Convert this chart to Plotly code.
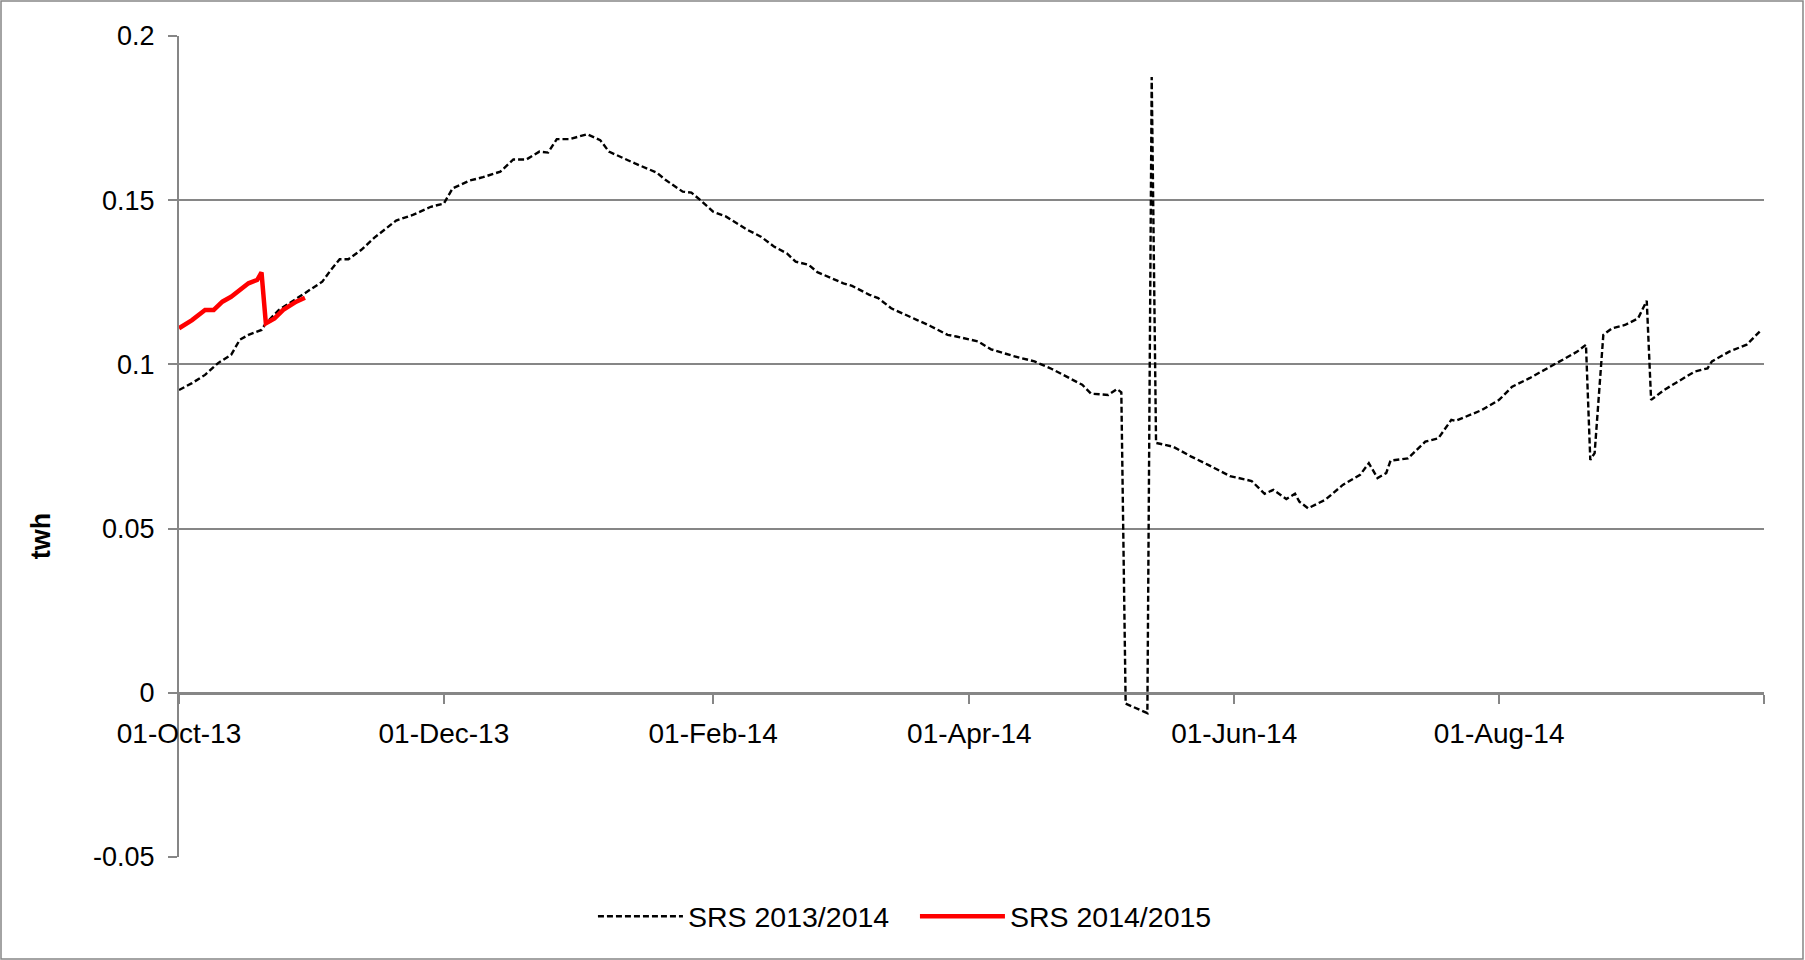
import pandas as pd
import plotly.graph_objects as go

# =========================
# DATA (days counted from the start of the season, 01-Oct)
# =========================
season_start = pd.Timestamp("2013-10-01")

srs_1314_days = [
    0, 3, 6, 9, 12, 14, 16, 19, 20, 23, 29, 33, 35, 37, 39, 42, 45, 50, 54, 58,
    61, 63, 67, 70, 74, 77, 80, 83, 85, 87, 90, 92, 94, 97, 99, 105, 110, 112,
    116, 118, 120, 123, 126, 131, 134, 137, 140, 142, 145, 147, 153, 155, 159,
    161, 164, 170, 173, 177, 179, 184, 187, 192, 197, 201, 205, 208, 210, 214,
    216, 217, 218, 223, 224, 225, 229, 233, 237, 242, 247, 250, 252, 255, 257,
    258, 260, 264, 268, 272, 274, 276, 278, 279, 283, 287, 290, 293, 294, 300,
    304, 307, 311, 317, 322, 324, 325, 326, 328, 330, 333, 336, 338, 339, 342,
    349, 352, 353, 357, 361, 364,
]
srs_1314_twh = [
    0.0922, 0.0943, 0.0968, 0.1004, 0.1029, 0.1075, 0.1090, 0.1105, 0.1125,
    0.1166, 0.1217, 0.1252, 0.1288, 0.1320, 0.1320, 0.1349, 0.1386, 0.1438,
    0.1456, 0.1480, 0.1490, 0.1536, 0.1560, 0.1570, 0.1587, 0.1624, 0.1624,
    0.1648, 0.1645, 0.1686, 0.1686, 0.1693, 0.1701, 0.1683, 0.1648, 0.1612,
    0.1584, 0.1562, 0.1526, 0.1523, 0.1501, 0.1465, 0.1450, 0.1409, 0.1389,
    0.1359, 0.1338, 0.1313, 0.1303, 0.1281, 0.1247, 0.1239, 0.1212, 0.1202,
    0.1171, 0.1135, 0.1117, 0.1090, 0.1085, 0.1070, 0.1046, 0.1026, 0.1009,
    0.0986, 0.0960, 0.0938, 0.0911, 0.0907, 0.0925, 0.0915, -0.0033, -0.0062,
    0.1875, 0.0761, 0.0749, 0.0720, 0.0694, 0.0660, 0.0645, 0.0606, 0.0618,
    0.0590, 0.0606, 0.0582, 0.0562, 0.0588, 0.0633, 0.0664, 0.0699, 0.0654,
    0.0669, 0.0707, 0.0714, 0.0765, 0.0775, 0.0831, 0.0828, 0.0861, 0.0892,
    0.0932, 0.0958, 0.1001, 0.1039, 0.1060, 0.0709, 0.0730, 0.1090, 0.1110,
    0.1120, 0.1140, 0.1194, 0.0892, 0.0922, 0.0978, 0.0988, 0.1009, 0.1039,
    0.1060, 0.1100,
]

srs_1415_days = [0, 3, 6, 8, 10, 12, 16, 18, 19, 20, 22, 24, 27, 29]
srs_1415_twh = [
    0.1110, 0.1135, 0.1166, 0.1166, 0.1191, 0.1206, 0.1247, 0.1257, 0.1280,
    0.1125, 0.1140, 0.1166, 0.1191, 0.1203,
]

x_tick_dates = ["2013-10-01", "2013-12-01", "2014-02-01", "2014-04-01",
                "2014-06-01", "2014-08-01", "2014-10-01"]
x_tick_text = ["01-Oct-13", "01-Dec-13", "01-Feb-14", "01-Apr-14",
               "01-Jun-14", "01-Aug-14", ""]
y_tick_vals = [-0.05, 0, 0.05, 0.1, 0.15, 0.2]
y_tick_text = ["-0.05", "0", "0.05", "0.1", "0.15", "0.2"]

x_1314 = season_start + pd.to_timedelta(srs_1314_days, unit="D")
x_1415 = season_start + pd.to_timedelta(srs_1415_days, unit="D")

# =========================
# CHART
# =========================
FONT = "Liberation Sans, Arial, sans-serif"
GRID = "#868686"

fig = go.Figure()

fig.add_trace(go.Scatter(
    x=x_1314, y=srs_1314_twh, mode="lines",
    line=dict(color="black", width=2.4, dash="6px,3px"),
    name="SRS 2013/2014"
))

fig.add_trace(go.Scatter(
    x=x_1415, y=srs_1415_twh, mode="lines",
    line=dict(color="#ff0000", width=4.5),
    name="SRS 2014/2015"
))

# outer frame around the whole chart
fig.add_shape(type="rect", xref="paper", yref="paper",
              x0=-0.1123, x1=1.0246, y0=-0.1242, y1=1.0426,
              line=dict(color=GRID, width=1.5), layer="below")

fig.add_annotation(text="<b>twh</b>", xref="paper", yref="paper",
                   x=-0.0978, y=0.392, textangle=-90, showarrow=False,
                   font=dict(family=FONT, size=27, color="black"))

fig.update_layout(
    width=1805, height=960,
    margin=dict(l=179, r=41, t=36, b=103, autoexpand=False),
    paper_bgcolor="white", plot_bgcolor="white",
    font=dict(family=FONT, size=27, color="black"),
    showlegend=True,
    legend=dict(orientation="h", xref="container", yref="container",
                x=0.3285, xanchor="left", y=0.045, yanchor="middle",
                font=dict(family=FONT, size=28.5), itemwidth=85,
                entrywidth=222, entrywidthmode="pixels",
                tracegroupgap=0),
)

fig.update_xaxes(
    type="date", range=["2013-10-01", "2014-10-01"],
    tickvals=x_tick_dates, ticktext=x_tick_text,
    anchor="free", position=0.2,
    showline=True, linecolor=GRID, linewidth=3,
    ticks="outside", ticklen=9, tickwidth=2, tickcolor=GRID,
    ticklabelstandoff=6, tickfont=dict(size=28),
    showgrid=False, zeroline=False,
)

fig.update_yaxes(
    range=[-0.05, 0.2],
    tickvals=y_tick_vals, ticktext=y_tick_text,
    showline=True, linecolor=GRID, linewidth=2,
    ticks="outside", ticklen=9, tickwidth=2, tickcolor=GRID,
    ticklabelstandoff=8,
    showgrid=True, gridcolor=GRID, gridwidth=2,
    zeroline=False,
)

# drop the default page margin so the figure sits at the window corner
fig.write_html("out.html", config={"displayModeBar": False},
               post_script="document.body.style.margin='0';")
